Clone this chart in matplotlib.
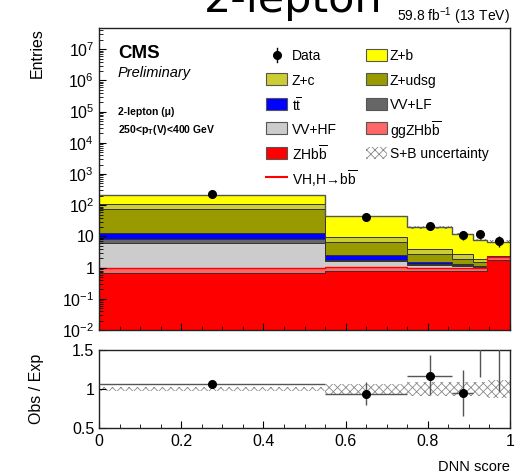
import matplotlib
matplotlib.use('Agg')
import matplotlib.pyplot as plt
import numpy as np
from matplotlib.patches import Rectangle
from matplotlib.lines import Line2D
from matplotlib.ticker import MultipleLocator, LogLocator, FuncFormatter, FixedLocator, NullFormatter

plt.rcParams['font.family'] = ['Liberation Sans', 'DejaVu Sans']
plt.rcParams['mathtext.fontset'] = 'custom'
plt.rcParams['mathtext.rm'] = 'Liberation Sans'
plt.rcParams['mathtext.it'] = 'Liberation Sans:italic'
plt.rcParams['mathtext.bf'] = 'Liberation Sans:bold'
plt.rcParams['hatch.linewidth'] = 0.6

# ---------------- data ----------------
edges = [0.0, 0.55, 0.75, 0.86, 0.91, 0.945, 1.0]
zhbb = [0.66, 0.75, 0.75, 0.80, 0.80, 1.75]
ggzhbb = [0.34, 0.30, 0.22, 0.20, 0.15, 0.45]
vv_hf = [5.0, 0.55, 0.20, 0.15, 0.08, 0.02]
vv_lf = [2.3, 0.10, 0.10, 0.10, 0.04, 0.01]
ttbar = [4.3, 0.80, 0.20, 0.09, 0.03, 0.01]
z_udsg = [61.0, 4.0, 1.3, 0.6, 0.45, 0.03]
z_c = [35.0, 3.3, 1.3, 0.7, 0.30, 0.05]
z_b = [105.0, 34.0, 15.4, 9.06, 5.85, 4.45]
data = [230.0, 41.0, 22.0, 11.1, 11.9, 7.3]
unc_frac = [0.03, 0.065, 0.085, 0.085, 0.085, 0.12]

ratio = [1.06, 0.94, 1.17, 0.95, 1.62, 1.75]
ratio_lo = [0.04, 0.15, 0.25, 0.30, 0.47, 0.77]
ratio_hi = [0.04, 0.15, 0.26, 0.30, 0.50, 0.80]

BB = 'b$\\overline{\\mathrm{b}}$'
components = [
    ('ZH' + BB, zhbb, '#ff0000'),
    ('ggZH' + BB, ggzhbb, '#ff6666'),
    ('VV+HF', vv_hf, '#cccccc'),
    ('VV+LF', vv_lf, '#666666'),
    ('t$\\overline{\\mathrm{t}}$', ttbar, '#0000ff'),
    ('Z+udsg', z_udsg, '#999900'),
    ('Z+c', z_c, '#cccc33'),
    ('Z+b', z_b, '#ffff00'),
]

W, H = 528, 474
def fx(px):
    return px / W
def fy(py):
    return 1 - py / H

fig = plt.figure(figsize=(W / 100, H / 100), dpi=100)
ax = fig.add_axes([fx(99), fy(330), 411 / W, 302 / H])
rax = fig.add_axes([fx(99), fy(428), 411 / W, 78 / H])

edges_a = np.array(edges)
centers = 0.5 * (edges_a[1:] + edges_a[:-1])
halfw = 0.5 * (edges_a[1:] - edges_a[:-1])

ymin = 0.01
ymax = 10 ** (302 / 31.2 - 2)

cum = np.full(len(centers), ymin * 0.1)
tops = []
for name, vals, col in components:
    top = cum + np.array(vals)
    ax.stairs(top, edges_a, baseline=cum, fill=True, color=col, linewidth=0)
    tops.append(top)
    cum = top
for top in tops:
    ax.stairs(top, edges_a, color='#333333', linewidth=0.7, baseline=None)
total = cum
# signal line
sig = np.array(zhbb) + np.array(ggzhbb)
ax.stairs(sig, edges_a, color='#ff0000', linewidth=1.0, baseline=None)
# uncertainty
u = np.array(unc_frac)
ax.stairs(total * (1 + u), edges_a, baseline=total * (1 - u), fill=True,
          facecolor='none', edgecolor='#777777', hatch='xxxx', linewidth=0)
ax.stairs(total, edges_a, color='#555555', linewidth=1.0, baseline=None)

# data
d = np.array(data)
ax.errorbar(centers, d, yerr=np.sqrt(d), fmt='o', color='black', ms=5.5,
            elinewidth=1.0, capsize=0, zorder=5)

ax.set_yscale('log')
ax.set_ylim(ymin, ymax)
ax.set_xlim(0, 1)

def yfmt(v, pos):
    e = int(round(np.log10(v)))
    if e == 0:
        return '1'
    if e == 1:
        return '10'
    return '$10^{%d}$' % e

ax.yaxis.set_major_locator(FixedLocator([10.0 ** e for e in range(-2, 8)]))
ax.yaxis.set_major_formatter(FuncFormatter(yfmt))
ax.yaxis.set_minor_locator(LogLocator(base=10, subs=np.arange(2, 10), numticks=30))
ax.yaxis.set_minor_formatter(NullFormatter())
ax.xaxis.set_major_locator(MultipleLocator(0.2))
ax.xaxis.set_minor_locator(MultipleLocator(0.05))
ax.set_xticklabels([])
ax.tick_params(which='both', direction='in', labelsize=11.5)
ax.tick_params(which='major', length=5)
ax.tick_params(which='minor', length=2.8)
for s in ax.spines.values():
    s.set_linewidth(1.0)
    s.set_color('#222222')

# ratio panel
rax.stairs(1 + u, edges_a, baseline=1 - u, fill=True, facecolor='none',
           edgecolor='#888888', hatch='xxxx', linewidth=0)
rax.errorbar(centers, ratio, xerr=halfw, yerr=[ratio_lo, ratio_hi], fmt='o',
             color='black', ms=5.5, ecolor='#555555', elinewidth=1.0, capsize=0, zorder=5)
rax.set_xlim(0, 1)
rax.set_ylim(0.5, 1.5)
rax.yaxis.set_major_locator(FixedLocator([0.5, 1.0, 1.5]))
rax.yaxis.set_major_formatter(FuncFormatter(lambda v, p: '%g' % v))
rax.xaxis.set_major_locator(MultipleLocator(0.2))
rax.xaxis.set_minor_locator(MultipleLocator(0.05))
rax.xaxis.set_major_formatter(FuncFormatter(lambda v, p: '%g' % round(v, 2)))
rax.tick_params(which='both', direction='in', labelsize=11.5)
rax.tick_params(which='major', length=5)
rax.tick_params(which='minor', length=2.8)
rax.tick_params(axis='x', pad=4)
for s in rax.spines.values():
    s.set_linewidth(1.0)
    s.set_color('#222222')

# texts
fig.text(fx(293), fy(12), '2-lepton', ha='center', va='baseline', fontsize=31,
         family='DejaVu Sans')
fig.text(fx(510), fy(16), '59.8 fb$^{-1}$ (13 TeV)', ha='right', va='center', fontsize=10)
fig.text(fx(37), fy(28), 'Entries', rotation=90, ha='center', va='top', fontsize=11.5)
fig.text(fx(36), fy(389), 'Obs / Exp', rotation=90, ha='center', va='center', fontsize=11.5)
fig.text(fx(510), fy(467), 'DNN score', ha='right', va='center', fontsize=10.5)

fig.text(fx(118), fy(53), 'CMS', ha='left', va='center', fontsize=13.5, weight='bold')
fig.text(fx(118), fy(73), 'Preliminary', ha='left', va='center', fontsize=10.5, style='italic')
fig.text(fx(118), fy(112), '2-lepton (\u03bc)', ha='left', va='center', fontsize=7.5, weight='bold')
fig.text(fx(118), fy(130), '250<p$_\\mathbf{T}$(V)<400 GeV', ha='left', va='center',
         fontsize=7.5, weight='bold')

# legend (manual)
rows = [55, 79.4, 103.8, 128.2, 152.6, 177]
col1_box, col1_txt = 266, 292
col2_box, col2_txt = 366, 390
bw, bh = 21, 12
cmap = {name: col for name, vals, col in components}

def box(xpx, ypx, col, hatch=None):
    if hatch:
        r = Rectangle((fx(xpx), fy(ypx + bh / 2)), bw / W, bh / H, transform=fig.transFigure,
                      facecolor='none', edgecolor='#888888', hatch=hatch, linewidth=0)
    else:
        r = Rectangle((fx(xpx), fy(ypx + bh / 2)), bw / W, bh / H, transform=fig.transFigure,
                      facecolor=col, edgecolor='#555555', linewidth=0.8)
    fig.patches.append(r)

def label(xpx, ypx, s):
    fig.text(fx(xpx), fy(ypx), s, ha='left', va='center_baseline', fontsize=10)

# column 1
fig.lines.append(Line2D([fx(277), fx(277)], [fy(rows[0] - 7), fy(rows[0] + 7)],
                        transform=fig.transFigure, color='black', lw=1.0))
fig.lines.append(Line2D([fx(277)], [fy(rows[0])], transform=fig.transFigure,
                        marker='o', ms=5.5, color='black', linestyle='none'))
label(col1_txt, rows[0], 'Data')
col1 = ['Z+c', 't$\\overline{\\mathrm{t}}$', 'VV+HF', 'ZH' + BB]
for i, n in enumerate(col1):
    box(col1_box, rows[i + 1], cmap[n])
    label(col1_txt, rows[i + 1], n)
fig.lines.append(Line2D([fx(266), fx(287)], [fy(rows[5]), fy(rows[5])],
                        transform=fig.transFigure, color='#ff0000', lw=1.5))
label(col1_txt, rows[5], 'VH,H$\\!\\rightarrow\\!$' + BB)
# column 2
col2 = ['Z+b', 'Z+udsg', 'VV+LF', 'ggZH' + BB]
for i, n in enumerate(col2):
    box(col2_box, rows[i], cmap[n])
    label(col2_txt, rows[i], n)
box(col2_box, rows[4], None, hatch='xxxx')
label(col2_txt, rows[4], 'S+B uncertainty')

fig.savefig('out.png', dpi=100)
